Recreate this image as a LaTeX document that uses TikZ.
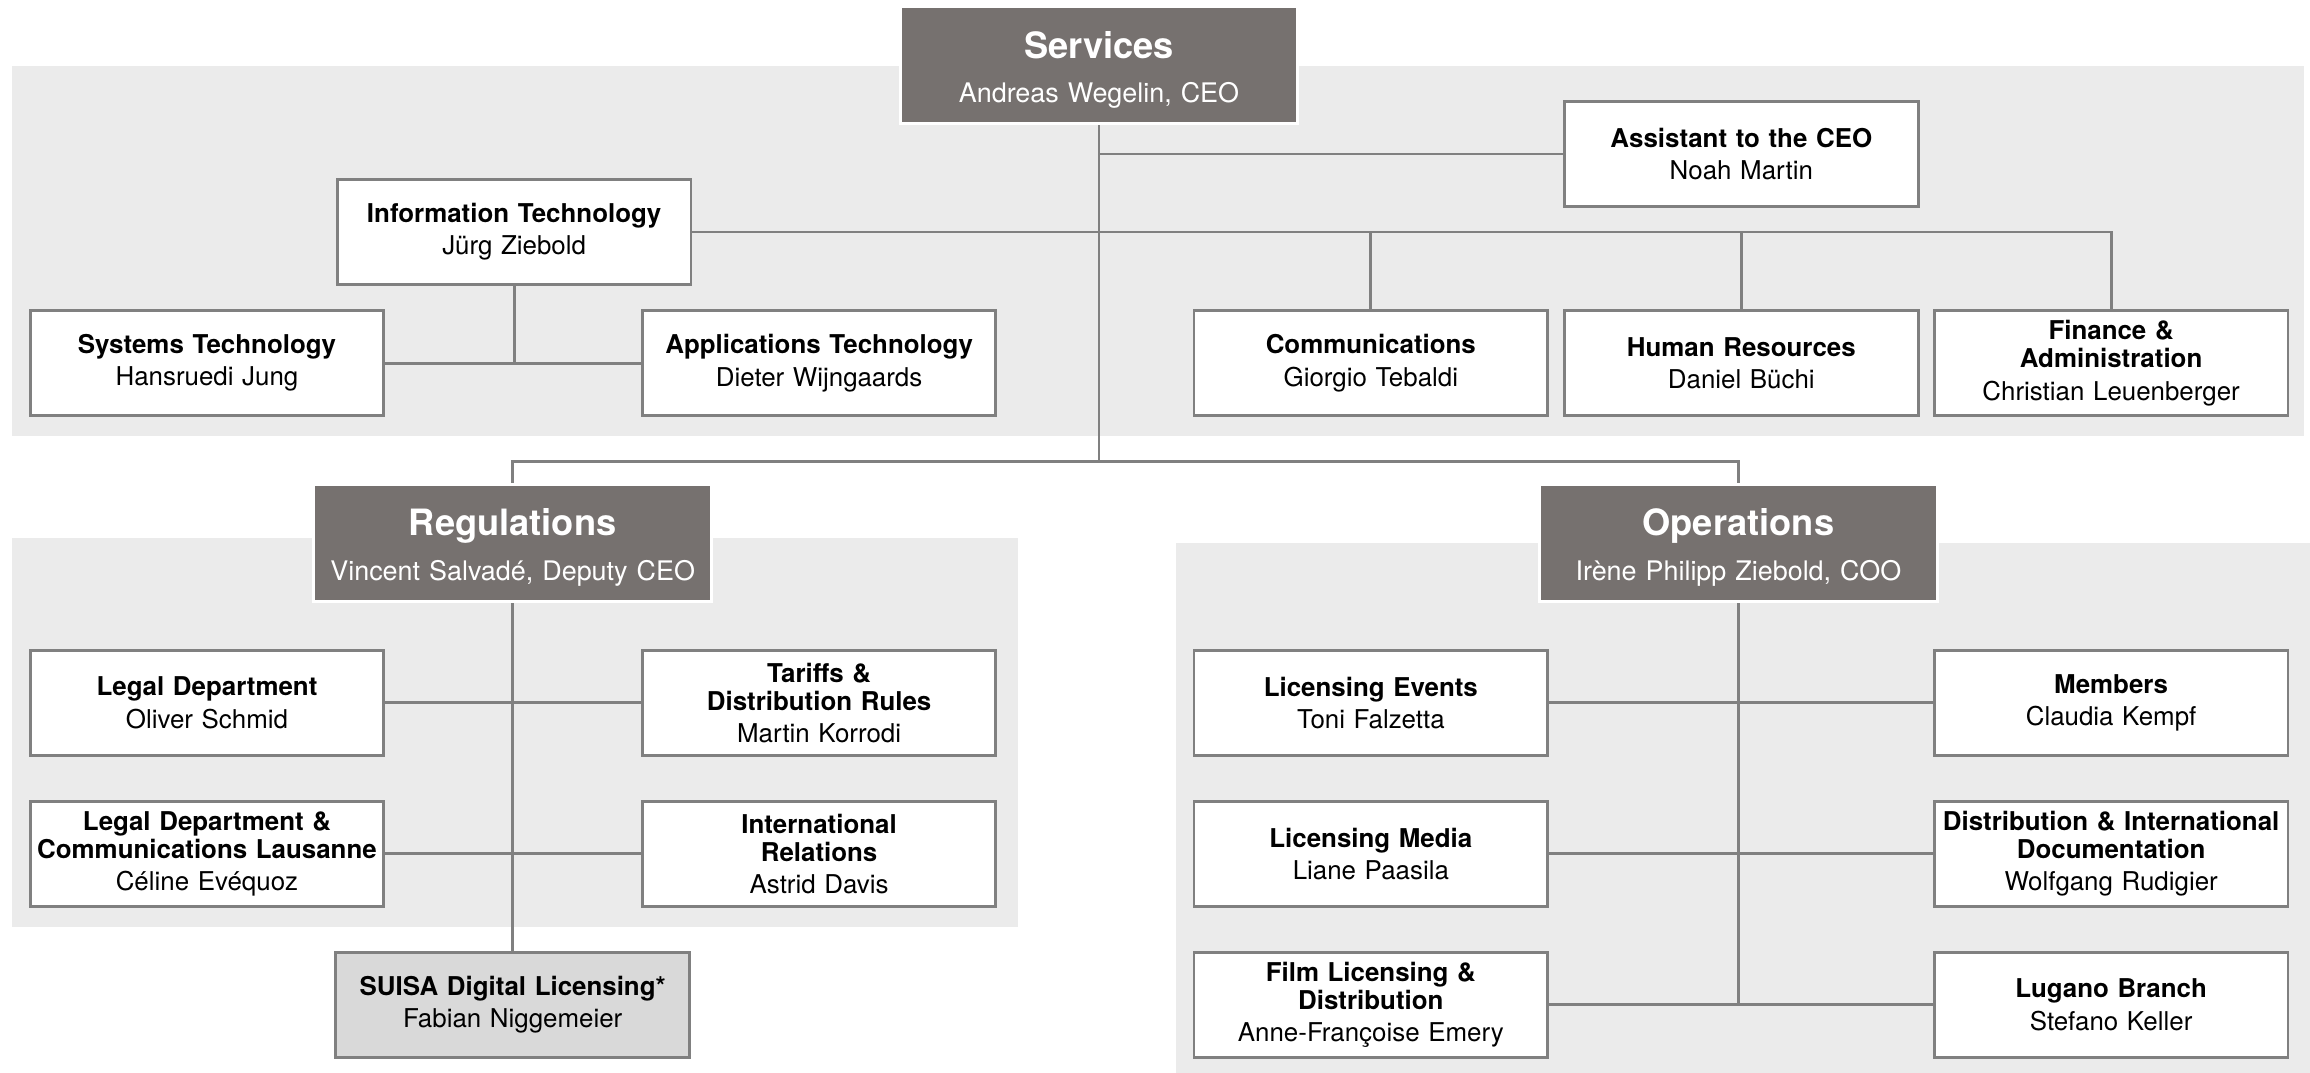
\documentclass[tikz,border=0pt]{standalone}
\usepackage{fontspec}
\setmainfont{TeX Gyre Heros}
\usepackage{tikz}
\usetikzlibrary{positioning, backgrounds}

\definecolor{bandgray}{HTML}{EBEBEB}
\definecolor{headgray}{HTML}{76716F}
\definecolor{linegray}{HTML}{808080}
\definecolor{suisagray}{HTML}{D9D9D9}

\tikzset{
  dept/.style={draw=linegray, line width=1.4pt, fill=white, minimum width=6cm,
    minimum height=1.78cm, inner sep=0pt, text width=5.9cm, align=center,
    font=\fontsize{12.5}{13.5}\selectfont},
  head/.style={draw=white, line width=1.42pt, fill=headgray, text=white,
    minimum width=6.75cm, minimum height=1.99cm, inner sep=0pt, text width=6.6cm,
    align=center, font=\fontsize{13}{21.6}\selectfont},
  link/.style={draw=linegray, line width=1.35pt},
}

\newcommand{\headline}[1]{\rule{0pt}{17.5pt}{\fontsize{17.5}{21}\selectfont\bfseries #1}}

\begin{document}
\begin{tikzpicture}[x=0.025cm, y=-0.025cm]

\useasboundingbox (0,0) rectangle (1568,728.3);

% services
\node[head] (services) at (746,44.3) {\headline{Services}\\Andreas Wegelin, CEO};
\node[dept] (assistant) at (1182,104.5) {\textbf{Assistant to the CEO}\\[2pt]Noah Martin};
\node[dept] (it) at (349,157.5) {\textbf{Information Technology}\\[2pt]Jürg Ziebold};
\node[dept] (systems) at (140.5,246.5) {\textbf{Systems Technology}\\[2pt]Hansruedi Jung};
\node[dept] (applications) at (556,246.5) {\textbf{Applications Technology}\\[2pt]Dieter Wijngaards};
\node[dept] (comm) at (930.5,246.5) {\textbf{Communications}\\[2pt]Giorgio Tebaldi};
\node[dept] (hr) at (1182,246.5) {\textbf{Human Resources}\\[2pt]Daniel Büchi};
\node[dept] (finance) at (1433,246.5) {\textbf{Finance \&}\\\textbf{Administration}\\[2pt]Christian Leuenberger};

% regulations
\node[head] (regulations) at (348,368.5) {\headline{Regulations}\\Vincent Salvadé, Deputy CEO};
\node[dept] (legal) at (140.5,477) {\textbf{Legal Department}\\[2pt]Oliver Schmid};
\node[dept] (tariffs) at (556,477) {\textbf{Tariffs \&}\\\textbf{Distribution Rules}\\[2pt]Martin Korrodi};
\node[dept] (lausanne) at (140.5,579.5) {\textbf{Legal Department \&}\\\textbf{Communications Lausanne}\\[2pt]Céline Evéquoz};
\node[dept] (intrel) at (556,579.5) {\textbf{International}\\\textbf{Relations}\\[2pt]Astrid Davis};
\node[dept, fill=suisagray] (suisa) at (348,682) {\textbf{SUISA Digital Licensing*}\\[2pt]Fabian Niggemeier};

% operations
\node[head] (operations) at (1180,368.5) {\headline{Operations}\\Irène Philipp Ziebold, COO};
\node[dept] (events) at (930.5,477) {\textbf{Licensing Events}\\[2pt]Toni Falzetta};
\node[dept] (members) at (1433,477) {\textbf{Members}\\[2pt]Claudia Kempf};
\node[dept] (media) at (930.5,579.5) {\textbf{Licensing Media}\\[2pt]Liane Paasila};
\node[dept] (distrib) at (1433,579.5) {\textbf{Distribution \& International}\\\textbf{Documentation}\\[2pt]Wolfgang Rudigier};
\node[dept] (film) at (930.5,682) {\textbf{Film Licensing \&}\\\textbf{Distribution}\\[2pt]Anne-Françoise Emery};
\node[dept] (lugano) at (1433,682) {\textbf{Lugano Branch}\\[2pt]Stefano Keller};

\coordinate (fork) at (746,313);

\begin{pgfonlayer}{background}
%% grey bands behind the three groups
\fill[bandgray] (8,45) rectangle (1563.6,296);
\fill[bandgray] (8,365) rectangle (691,629);
\fill[bandgray] (798.4,368.4) rectangle (1568,728.3);

%% connectors
\draw[link] (services.south) -- (fork);
\draw[link] (regulations.north) |- (fork) -| (operations.north);
\draw[link] (assistant.west) -- (assistant.west -| services.south);
\draw[link] (it.east) -| (finance.north);
\draw[link] (comm.north) -- (comm.north |- it.east);
\draw[link] (hr.north) -- (hr.north |- it.east);
\draw[link] (it.south) -- (it.south |- systems.east);
\draw[link] (systems.east) -- (applications.west);

\draw[link] (regulations.south) -- (suisa.north);
\draw[link] (legal.east) -- (tariffs.west);
\draw[link] (lausanne.east) -- (intrel.west);

\draw[link] (operations.south) -- (operations.south |- film.east);
\draw[link] (events.east) -- (members.west);
\draw[link] (media.east) -- (distrib.west);
\draw[link] (film.east) -- (lugano.west);
\end{pgfonlayer}

\end{tikzpicture}
\end{document}
